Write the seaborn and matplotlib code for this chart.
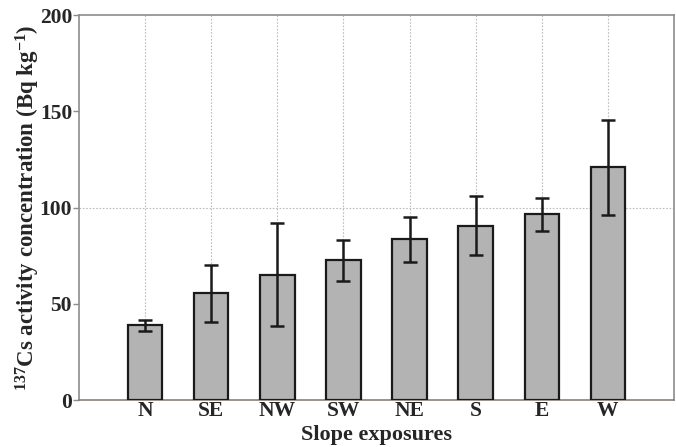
import matplotlib
matplotlib.use("Agg")
import matplotlib.pyplot as plt
import seaborn as sns
import pandas as pd

# Mean 137Cs activity per slope exposure with error half-widths
exposures = ["N", "SE", "NW", "SW", "NE", "S", "E", "W"]
cs_mean = [38.8, 55.4, 65.1, 72.7, 83.5, 90.5, 96.5, 120.9]
cs_err = [3.0, 15.0, 26.7, 10.7, 11.6, 15.3, 8.5, 24.8]
y_ticks = [0, 50, 100, 150, 200]

sns.set_theme(style="white")
plt.rcParams["font.family"] = ["Liberation Serif", "DejaVu Serif"]
plt.rcParams["font.weight"] = "bold"
plt.rcParams["mathtext.default"] = "regular"

df = pd.DataFrame({"exposure": exposures, "cs": cs_mean})

fig = plt.figure(figsize=(6.76, 4.47), dpi=100)
ax = fig.add_axes([0.1169, 0.105, 0.8801, 0.8614])

sns.barplot(data=df, x="exposure", y="cs", order=exposures, color="#b3b3b3",
            saturation=1, width=0.52, edgecolor="#1a1a1a", linewidth=1.6,
            errorbar=None, ax=ax, zorder=3)

ax.errorbar(range(len(exposures)), cs_mean, yerr=cs_err, fmt="none",
            ecolor="#1a1a1a", elinewidth=1.8, capsize=5.2, capthick=1.8, zorder=4)

ax.set_xlim(-1, 8)
ax.set_ylim(0, 200)
ax.set_yticks(y_ticks)
ax.set_yticklabels([str(t) for t in y_ticks], fontsize=15.5, fontweight="bold")
ax.set_xticks(range(len(exposures)))
ax.set_xticklabels(exposures, fontsize=15.5, fontweight="bold")

# dotted reference grid: one line per category and one at 100
for i in range(len(exposures)):
    ax.axvline(i, color="#bdbdbd", linestyle=(0, (1.5, 1.5)), linewidth=0.8, zorder=1)
ax.axhline(100, color="#bdbdbd", linestyle=(0, (1.5, 1.5)), linewidth=0.8, zorder=1)

for side in ["left", "right", "top", "bottom"]:
    ax.spines[side].set_visible(True)
    ax.spines[side].set_color("#8c8c8c")
    ax.spines[side].set_linewidth(1.2)
ax.spines["bottom"].set_color("#8a7f7a")

ax.tick_params(axis="y", which="both", left=True, length=4, width=1, color="#8c8c8c", pad=1)
ax.tick_params(axis="x", bottom=False, length=0, pad=1)

ax.set_xlabel("Slope exposures", fontsize=16, fontweight="bold", labelpad=2.5)
ax.set_ylabel(r"$^{137}$Cs activity concentration (Bq kg$^{-1}$)", fontsize=16.5,
              fontweight="bold", labelpad=-2)

fig.savefig("out.png", dpi=100)
